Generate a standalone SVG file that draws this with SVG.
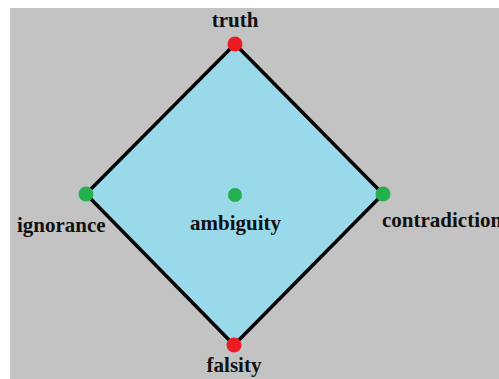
<svg xmlns="http://www.w3.org/2000/svg" width="499" height="379" viewBox="0 0 499 379">
<style>
.lbl{font-family:"Liberation Serif","Times New Roman",serif;font-weight:bold;font-size:21px;fill:#111}
.edge{stroke:#000;stroke-width:3.5;fill:none}
</style>
<rect x="0" y="0" width="499" height="379" fill="#fff"/>
<rect x="10" y="8" width="489" height="371" fill="#c3c3c3"/>
<polygon points="235,44 383,194 234,345 86,194" fill="#99d9ea"/>
<g id="connectors">
<polygon class="edge" points="235,44 383,194 234,345 86,194"/>
</g>
<g id="truth">
<circle cx="235" cy="44" r="7.5" fill="#ed1c24"/>
<text class="lbl" x="235" y="27" text-anchor="middle">truth</text>
</g>
<g id="ignorance">
<circle cx="86" cy="194" r="7.5" fill="#22b14c"/>
<text class="lbl" x="17" y="232">ignorance</text>
</g>
<g id="ambiguity">
<circle cx="235" cy="195" r="7" fill="#22b14c"/>
<text class="lbl" x="190" y="230">ambiguity</text>
</g>
<g id="contradiction">
<circle cx="383" cy="194" r="7.5" fill="#22b14c"/>
<text class="lbl" x="382" y="227">contradiction</text>
</g>
<g id="falsity">
<circle cx="234" cy="345" r="7.5" fill="#ed1c24"/>
<text class="lbl" x="234" y="372" text-anchor="middle">falsity</text>
</g>
</svg>
